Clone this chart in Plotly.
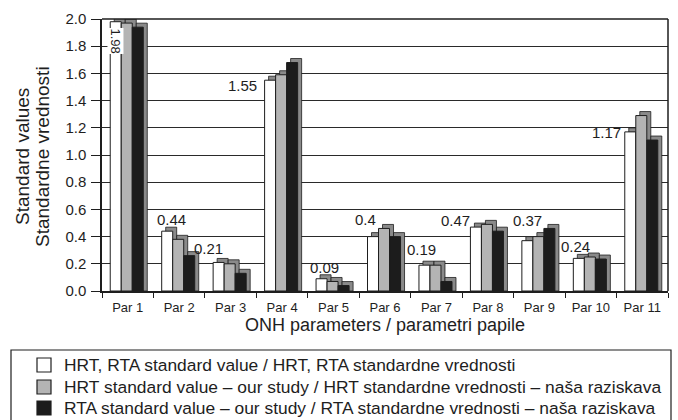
import plotly.graph_objects as go

categories = ["Par 1", "Par 2", "Par 3", "Par 4", "Par 5", "Par 6", "Par 7", "Par 8", "Par 9", "Par 10", "Par 11"]
hrt_rta_standard = [1.98, 0.44, 0.21, 1.55, 0.09, 0.40, 0.19, 0.47, 0.37, 0.24, 1.17]
hrt_our_study = [1.97, 0.38, 0.20, 1.59, 0.07, 0.46, 0.19, 0.49, 0.40, 0.25, 1.29]
rta_our_study = [1.94, 0.26, 0.13, 1.68, 0.04, 0.40, 0.07, 0.44, 0.46, 0.235, 1.11]
label_texts = ["1.98", "0.44", "0.21", "1.55", "0.09", "0.4", "0.19", "0.47", "0.37", "0.24", "1.17"]
y_ticks = [0.0, 0.2, 0.4, 0.6, 0.8, 1.0, 1.2, 1.4, 1.6, 1.8, 2.0]

series_names = [
    "HRT, RTA standard value / HRT, RTA standardne vrednosti",
    "HRT standard value – our study / HRT standardne vrednosti – naša raziskava",
    "RTA standard value – our study / RTA standardne vrednosti – naša raziskava",
]
series_vals = [hrt_rta_standard, hrt_our_study, rta_our_study]
colors = ["#ffffff", "#b4b4b4", "#1c1c1c"]

FONT = "Liberation Sans, Arial, Helvetica, sans-serif"
INK = "#1e1e1e"

# plot-area pixel geometry (used only for non-data decorations)
PL, PR, PT, PB = 102, 668, 19, 291
W, H = PR - PL, PB - PT
def px(x):
    return (x - PL) / W
def py(y):
    return (PB - y) / H

xpos = list(range(len(categories)))
BAR_W = 0.214
offsets = [-0.34, -0.126, 0.088]
DEPTH_X = 4 / (W / len(categories))   # 4 px to the right
DEPTH_Y = 4 * 2.0 / H                 # 4 px up

fig = go.Figure()
# depth (side/top faces) drawn behind the front faces
for vals, off in zip(series_vals, offsets):
    fig.add_trace(go.Bar(
        x=xpos, y=[v + DEPTH_Y for v in vals], width=BAR_W, offset=off + DEPTH_X,
        marker=dict(color="#8a8a8a", line=dict(color=INK, width=0.8)),
        showlegend=False, hoverinfo="skip",
    ))
for name, vals, col, off in zip(series_names, series_vals, colors, offsets):
    fig.add_trace(go.Bar(
        x=xpos, y=vals, name=name, width=BAR_W, offset=off,
        marker=dict(color=col, line=dict(color=INK, width=1)),
        showlegend=False,
    ))

# data labels of the first series: (side of white bar, x shift px, y shift px)
label_place = {
    "0.44": ("right", 14, 12), "0.21": ("right", 0, 14), "0.09": ("right", 13, 11),
    "0.4": ("right", -2, 17), "0.19": ("right", 7, 16), "0.37": ("right", 10, 20),
    "0.24": ("right", 7, 12), "0.47": ("left", 1, 7), "1.55": ("left", -7, -5),
    "1.17": ("left", -3, -1),
}
for i, (v, t) in enumerate(zip(hrt_rta_standard, label_texts)):
    if t == "1.98":
        fig.add_annotation(x=i + offsets[0] + BAR_W / 2, y=v, text=t, textangle=90,
                           showarrow=False, yanchor="top", yshift=-6,
                           font=dict(size=13, color=INK), bgcolor="white", borderpad=0)
        continue
    side, dx, dy = label_place[t]
    xref_edge = i + offsets[0] + (BAR_W if side == "right" else 0)
    fig.add_annotation(x=xref_edge, y=v, text=t, showarrow=False, xanchor="right",
                       yanchor="middle", xshift=dx, yshift=dy,
                       font=dict(size=15, color=INK), borderpad=0)

# y-axis title (two lines)
for txt, xc in [("Standard values", 22), ("Standardne vrednosti", 42)]:
    fig.add_annotation(xref="paper", yref="paper", x=px(xc), y=py(157), text=txt,
                       textangle=-90, showarrow=False, xanchor="center", yanchor="middle",
                       font=dict(size=19, color=INK))

# legend (box, swatches, texts)
fig.add_shape(type="rect", xref="paper", yref="paper",
              x0=px(11), x1=px(671), y0=py(428), y1=py(350),
              line=dict(color=INK, width=1.2), fillcolor="rgba(0,0,0,0)")
for name, col, ry in zip(series_names, colors, [365, 387, 408]):
    fig.add_shape(type="rect", xref="paper", yref="paper",
                  x0=px(37), x1=px(51), y0=py(ry + 7), y1=py(ry - 7),
                  line=dict(color=INK, width=1.2), fillcolor=col)
    fig.add_annotation(xref="paper", yref="paper", x=px(62), y=py(ry), text=name,
                       showarrow=False, xanchor="left", yanchor="middle",
                       font=dict(size=17.4, color=INK))

# plot-area frame (top and right)
fig.add_shape(type="line", xref="paper", yref="paper", x0=1, x1=1, y0=0, y1=1,
              line=dict(color=INK, width=1.5))
fig.add_shape(type="line", xref="paper", yref="paper", x0=0, x1=1, y0=1, y1=1,
              line=dict(color=INK, width=1.5))

fig.update_layout(
    width=678, height=420,
    margin=dict(l=PL, r=678 - PR, t=PT, b=420 - PB),
    paper_bgcolor="white", plot_bgcolor="white",
    font=dict(family=FONT, color=INK, size=13),
    barmode="overlay",
    showlegend=False,
    xaxis=dict(
        range=[-0.5, len(categories) - 0.5],
        tickvals=xpos, ticktext=categories,
        title=dict(text="ONH parameters / parametri papile", font=dict(size=18), standoff=2),
        tickfont=dict(size=13), showline=True, linecolor=INK, linewidth=1.5,
        ticks="", showgrid=False, zeroline=False, ticklabelstandoff=4,
        minor=dict(tickvals=[k - 0.5 for k in range(len(categories) + 1)],
                   ticks="outside", ticklen=5, tickcolor=INK, showgrid=False),
    ),
    yaxis=dict(
        range=[0, 2.0], tickvals=y_ticks, tickformat=".1f",
        tickfont=dict(size=15), showline=True, linecolor=INK, linewidth=1.5,
        ticks="outside", ticklen=9, tickcolor=INK, ticklabelstandoff=2,
        showgrid=True, gridcolor="#2a2a2a", gridwidth=1.2, zeroline=False,
    ),
)

fig.write_html("out.html", config={"displayModeBar": False},
               post_script="document.body.style.margin='0';document.body.style.overflow='hidden';")
